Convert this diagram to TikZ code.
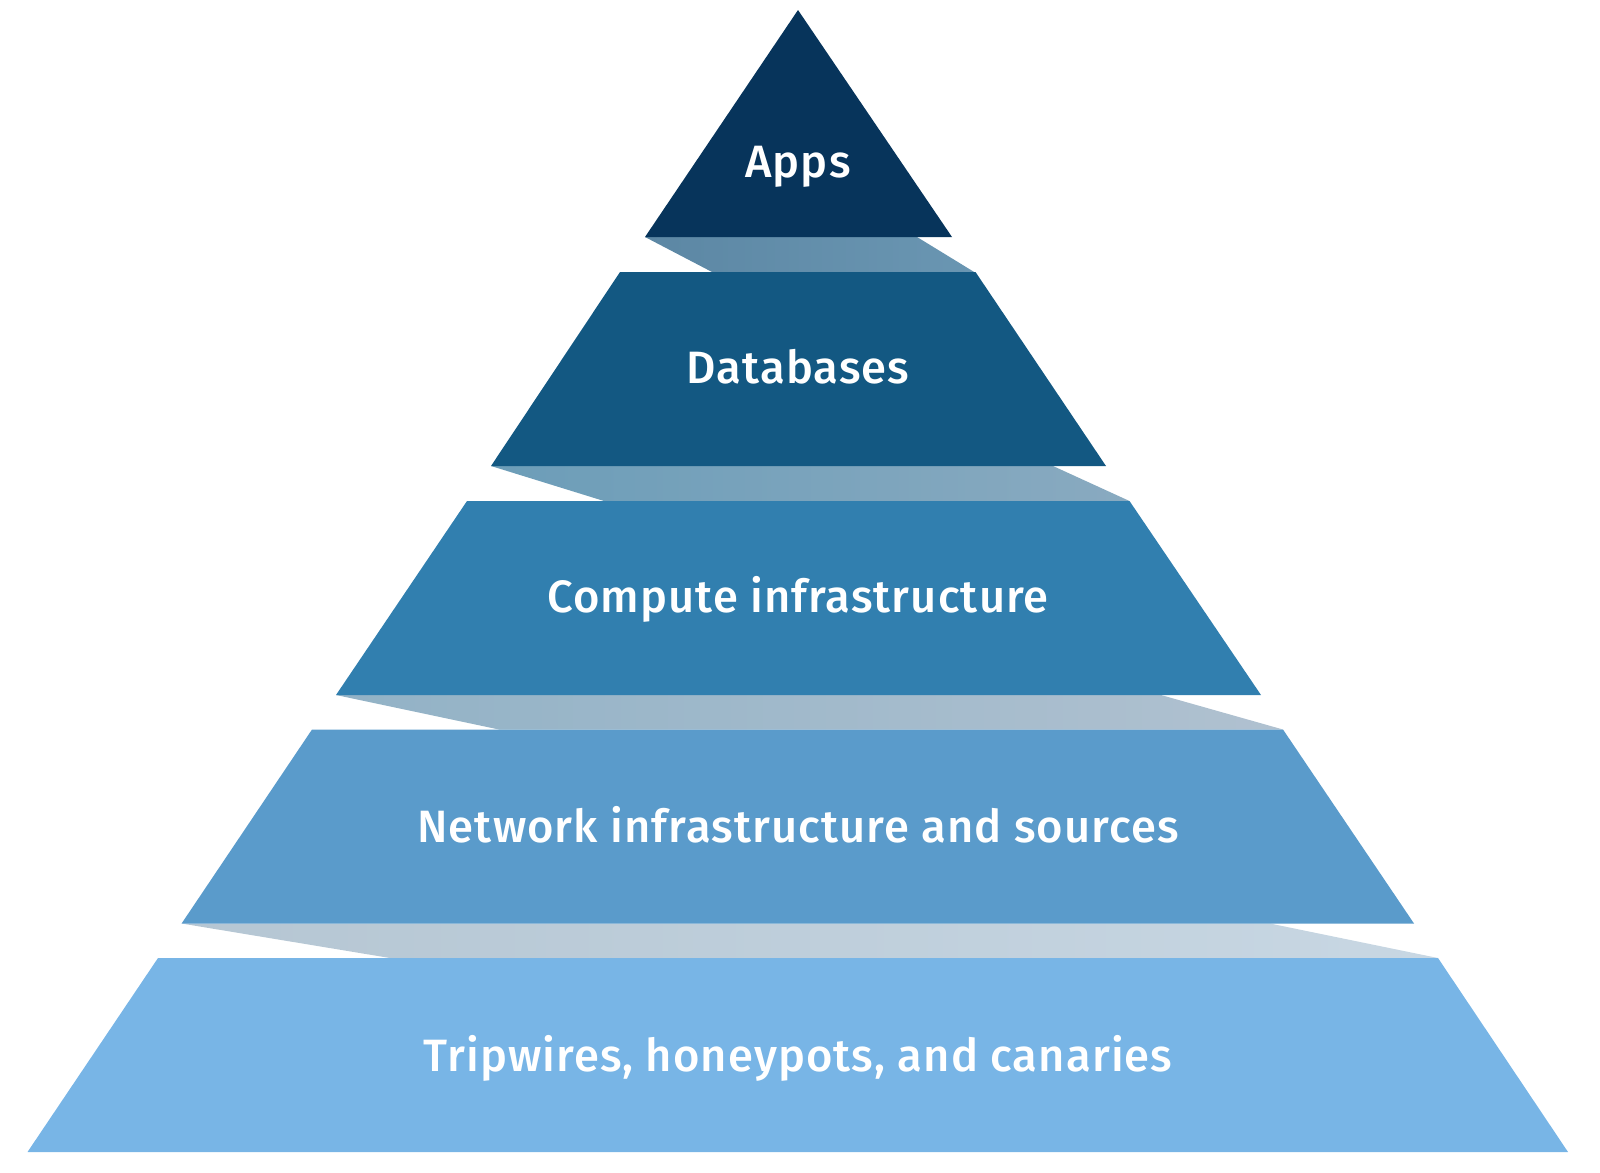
\documentclass[tikz,border=0pt]{standalone}
\usepackage{fontspec}
\setmainfont{Fira Sans}[UprightFont=* Medium,LetterSpace=2.4]
\definecolor{c1}{HTML}{07345B}
\definecolor{c2}{HTML}{135882}
\definecolor{c3}{HTML}{317FAF}
\definecolor{c4}{HTML}{5A9BCB}
\definecolor{c5}{HTML}{78B5E6}
\definecolor{b1l}{HTML}{5C87A4}
\definecolor{b1r}{HTML}{6A96B2}
\definecolor{b2l}{HTML}{6C9DB8}
\definecolor{b2r}{HTML}{89AAC0}
\definecolor{b3l}{HTML}{92B2C6}
\definecolor{b3r}{HTML}{B0C1D0}
\definecolor{b4l}{HTML}{B5C6D3}
\definecolor{b4r}{HTML}{C8D7E3}
\begin{document}
\begin{tikzpicture}[x=1bp,y=-1bp,
  lbl/.style={text=white,anchor=base,inner sep=0pt,font=\fontsize{45.5}{50}\selectfont}]
\useasboundingbox (0,0) rectangle (1600,1172);
% bands (sides of layers)
\shade[left color=b1l,right color=b1r] (645,237) -- (917,237) -- (975,272.5) -- (713,272.5) -- cycle;
\shade[left color=b2l,right color=b2r] (491,466) -- (1053,466) -- (1129.5,501) -- (604,501) -- cycle;
\shade[left color=b3l,right color=b3r] (336,695) -- (1161,695) -- (1283,729.5) -- (499,729.5) -- cycle;
\shade[left color=b4l,right color=b4r] (181.6,923.5) -- (1270,923.5) -- (1438,958) -- (390,958) -- cycle;
% layers
\fill[c1] (798,10) -- (952,237) -- (645,237) -- cycle;
\fill[c2] (620,272) -- (975.5,272) -- (1106,466) -- (491,466) -- cycle;
\fill[c3] (467,501) -- (1129.5,501) -- (1261,695) -- (336,695) -- cycle;
\fill[c4] (312,729.5) -- (1283,729.5) -- (1414,923.5) -- (181.6,923.5) -- cycle;
\fill[c5] (158,958) -- (1438,958) -- (1568,1152) -- (27.5,1152) -- cycle;
% labels
\node[lbl] (apps) at (798,177) {Apps};
\node[lbl] (db) at (798,383) {Databases};
\node[lbl] (compute) at (798,612) {Compute infrastructure};
\node[lbl] (network) at (798,842) {Network infrastructure and sources};
\node[lbl] (trip) at (798,1071) {Tripwires, honeypots, and canaries};
\end{tikzpicture}
\end{document}
